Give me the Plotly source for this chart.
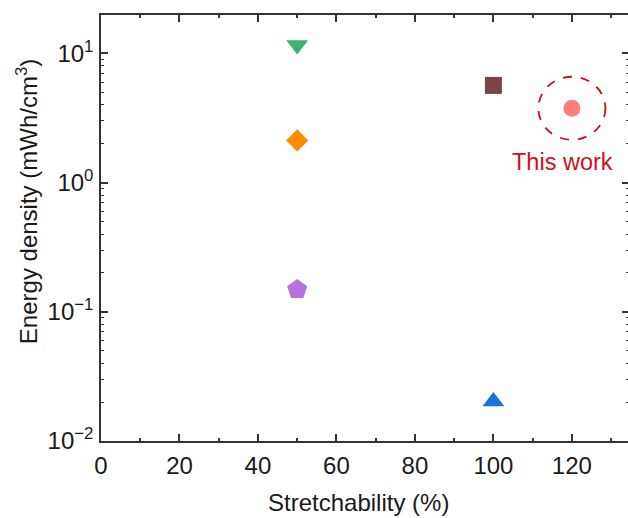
import plotly.graph_objects as go
import math

# ---- data ----
stretch = [50, 50, 50, 100, 100, 120]            # Stretchability (%)
energy = [11.6, 2.12, 0.149, 0.0202, 5.65, 3.76]  # Energy density (mWh/cm^3)
symbols = ["triangle-down", "diamond", "pentagon", "triangle-up", "square", "circle"]
colors = ["#3CB371", "#FF8C00", "#B473DE", "#1F6FE0", "#7B4446", "#FF7F7F"]
sizes = [19, 17, 21, 19, 17, 17]

y_tickvals = [0.01, 0.1, 1, 10]
y_ticktext = ["10<sup>\u22122</sup>", "10<sup>\u22121</sup>", "10<sup>0</sup>", "10<sup>1</sup>"]
y_minor = [m * d for d in [0.01, 0.1, 1, 10] for m in range(2, 10)]

highlight_x = 120
highlight_y = 3.76
label_text = "This work"

FONT = "Arial, Liberation Sans, sans-serif"
AX = "#333333"

W, H = 628, 518
ML, MR, MT, MB = 101, 0, 15, 77
PW, PH = W - ML - MR, H - MT - MB
x_range = [0, 134.3]
ylog_range = [-2, 1.297]

fig = go.Figure()
for xv, yv, sym, col, sz in zip(stretch, energy, symbols, colors, sizes):
    fig.add_trace(go.Scatter(
        x=[xv], y=[yv], mode="markers",
        marker=dict(symbol=sym, color=col, size=sz, line=dict(width=0)),
        showlegend=False, hoverinfo="x+y"))

# dummy trace on right y axis to show its ticks
fig.add_trace(go.Scatter(x=[None], y=[None], yaxis="y2", showlegend=False))

fig.update_layout(
    width=W, height=H,
    margin=dict(l=ML, r=MR, t=MT, b=MB, autoexpand=False),
    paper_bgcolor="white", plot_bgcolor="white",
    font=dict(family=FONT, size=24, color="#1a1a1a"),
    xaxis=dict(
        range=x_range, tickmode="linear", tick0=0, dtick=20,
        ticks="inside", ticklen=7, tickwidth=1.5, tickcolor=AX,
        minor=dict(ticks="inside", ticklen=3.5, tickwidth=1.5, tickcolor=AX, dtick=10),
        showline=True, linecolor=AX, linewidth=1.5, mirror="ticks",
        showgrid=False, zeroline=False,
        tickfont=dict(size=24, family=FONT, color="#1a1a1a"),
        ticklabelstandoff=2,
    ),
    yaxis=dict(
        type="log", range=ylog_range,
        tickmode="array", tickvals=y_tickvals, ticktext=y_ticktext,
        ticks="inside", ticklen=7, tickwidth=1.5, tickcolor=AX,
        minor=dict(ticks="inside", ticklen=3.5, tickwidth=1, tickcolor=AX,
                   tickmode="array", tickvals=y_minor),
        showline=True, linecolor=AX, linewidth=1.5, mirror=False,
        showgrid=False, zeroline=False,
        tickfont=dict(size=24, family=FONT, color="#1a1a1a"),
        ticklabelstandoff=1,
    ),
    yaxis2=dict(
        type="log", range=ylog_range, overlaying="y", side="right",
        tickmode="array", tickvals=y_tickvals, showticklabels=False,
        ticks="inside", ticklen=6, tickwidth=1.5, tickcolor=AX,
        minor=dict(ticks="inside", ticklen=2.5, tickwidth=1, tickcolor=AX,
                   tickmode="array", tickvals=y_minor),
        showline=False, showgrid=False, zeroline=False,
    ),
)

# dashed circle around "This work" (paper coords derived from the axis scales)
cx = (highlight_x - x_range[0]) / (x_range[1] - x_range[0])
cy = (math.log10(highlight_y) - ylog_range[0]) / (ylog_range[1] - ylog_range[0])
rx = 33.5 / PW
ry = 31.5 / PH
fig.add_shape(type="circle", xref="paper", yref="paper",
              x0=cx - rx, x1=cx + rx, y0=cy - ry, y1=cy + ry,
              line=dict(color="#D0101A", width=1.8, dash="dash"),
              layer="above")

fig.add_annotation(x=117.7, y=math.log10(1.45), xref="x", yref="y",
                   text=label_text, showarrow=False,
                   font=dict(size=23.5, color="#D0101A", family=FONT))

# axis titles
fig.add_annotation(x=-0.1415, y=0.5617, xref="paper", yref="paper",
                   text="Energy density (mWh/cm<sup>3</sup>)", textangle=-90,
                   showarrow=False, xanchor="center", yanchor="middle",
                   font=dict(size=24, family=FONT, color="#1a1a1a"))
fig.add_annotation(x=0.489, y=-0.1455, xref="paper", yref="paper",
                   text="Stretchability (%)", showarrow=False,
                   xanchor="center", yanchor="middle",
                   font=dict(size=24, family=FONT, color="#1a1a1a"))

fig.write_html("out.html")
